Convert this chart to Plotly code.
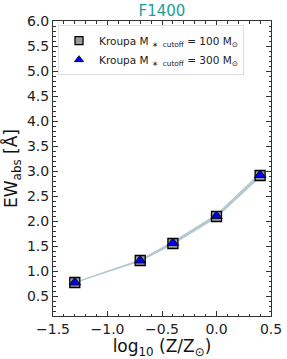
import plotly.graph_objects as go

logZ = [-1.3, -0.7, -0.4, 0.0, 0.4]
ew_100 = [0.77, 1.21, 1.55, 2.09, 2.91]
ew_300 = [0.77, 1.21, 1.56, 2.10, 2.92]
band_lo = [0.768, 1.197, 1.535, 2.07, 2.88]
band_hi = [0.772, 1.223, 1.585, 2.13, 2.96]
labels = ["Kroupa M <sub>∗  cutoff</sub> = 100 M<sub>⊙</sub>",
          "Kroupa M <sub>∗  cutoff</sub> = 300 M<sub>⊙</sub>"]

band_color = "#b3c9d1"
sq_marker = dict(symbol="square", color="#9a9a9a", line=dict(color="black", width=1.3))
tri_marker = dict(symbol="triangle-up", color="#0000ee", line=dict(color="black", width=0.8))

fig = go.Figure()
fig.add_trace(go.Scatter(x=logZ, y=band_lo, mode="lines", line=dict(color=band_color, width=1),
                         showlegend=False, hoverinfo="skip"))
fig.add_trace(go.Scatter(x=logZ, y=band_hi, mode="lines", line=dict(color=band_color, width=1),
                         fill="tonexty", fillcolor=band_color, showlegend=False, hoverinfo="skip"))
fig.add_trace(go.Scatter(x=logZ, y=ew_100, mode="markers", marker=dict(size=10, **sq_marker),
                         name=labels[0], showlegend=False))
fig.add_trace(go.Scatter(x=logZ, y=ew_300, mode="markers", marker=dict(size=10, **tri_marker),
                         name=labels[1], showlegend=False))
# legend entries with smaller symbols, as in the reference legend
fig.add_trace(go.Scatter(x=[None], y=[None], mode="markers", marker=dict(size=8, **sq_marker),
                         name=labels[0]))
fig.add_trace(go.Scatter(x=[None], y=[None], mode="markers", marker=dict(size=8, **tri_marker),
                         name=labels[1]))

axis_common = dict(showline=True, linecolor="#333333", linewidth=1, mirror="ticks",
                   ticks="inside", ticklen=5, tickcolor="#333333", showgrid=False,
                   zeroline=False, automargin=False,
                   tickfont=dict(size=14, color="#222222", family="DejaVu Sans"))

fig.update_xaxes(range=[-1.5, 0.5], dtick=0.5, tickformat=".1f",
                 minor=dict(dtick=0.1, ticks="inside", ticklen=2.5, tickcolor="#333333"),
                 title=dict(text="log<sub>10</sub> (Z/Z<sub>⊙</sub>)", font=dict(size=17, color="#111111",
                            family="DejaVu Sans"), standoff=2),
                 **axis_common)
fig.update_yaxes(range=[0.1, 6.0], tickvals=[0.5, 1.0, 1.5, 2.0, 2.5, 3.0, 3.5, 4.0, 4.5, 5.0, 5.5, 6.0],
                 tickformat=".1f",
                 minor=dict(dtick=0.1, ticks="inside", ticklen=2.5, tickcolor="#333333"),
                 title=dict(text="EW<sub>abs</sub> [Å]", font=dict(size=17, color="#111111",
                            family="DejaVu Sans"), standoff=6),
                 **axis_common)

fig.update_layout(
    width=287, height=359,
    margin=dict(l=53, r=16, t=21, b=43),
    plot_bgcolor="white", paper_bgcolor="white",
    title=dict(text="F1400", xref="paper", x=0.5, xanchor="center",
               y=1 - 11 / 359, yanchor="middle",
               font=dict(size=15, color="#1e9e9e", family="DejaVu Sans")),
    legend=dict(x=0.023, y=0.986, xanchor="left", yanchor="top", bgcolor="rgba(255,255,255,0.9)",
                bordercolor="#dddddd", borderwidth=1, traceorder="normal",
                font=dict(size=10.5, color="#222222", family="DejaVu Sans"),
                tracegroupgap=0),
    showlegend=True,
)

# remove the default page margin so the figure sits at the window's top-left corner
fig.write_html("out.html", config={"displayModeBar": False},
               post_script="document.body.style.margin='0';")
